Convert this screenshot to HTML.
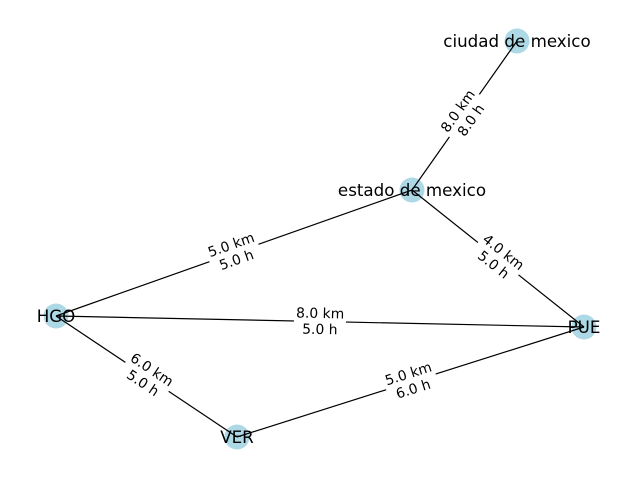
<!DOCTYPE html>
<html><head><meta charset="utf-8"><style>
html,body{margin:0;padding:0;background:#fff;}
body{width:640px;height:480px;position:relative;overflow:hidden;font-family:"DejaVu Sans","Liberation Sans",sans-serif;}
svg{position:absolute;left:0;top:0;}
.el{position:absolute;transform:translate(-50%,-50%) rotate(var(--r));background:#fff;font-size:13.9px;line-height:16px;text-align:center;white-space:nowrap;padding:0 2px;color:#000;}
.nl{position:absolute;transform:translate(-50%,-50%);font-size:16.7px;white-space:nowrap;color:#000;}
</style></head><body>
<svg width="640" height="480">
<g fill="#add8e6">
<circle cx="517" cy="41" r="12.5"/><circle cx="412" cy="190" r="12.5"/><circle cx="56" cy="316" r="12.5"/><circle cx="584" cy="327" r="12.5"/><circle cx="237" cy="437" r="12.5"/>
</g>
<g stroke="#000" stroke-width="1.2">
<line x1="517" y1="41" x2="412" y2="190"/>
<line x1="412" y1="190" x2="56" y2="316"/>
<line x1="412" y1="190" x2="584" y2="327"/>
<line x1="56" y1="316" x2="584" y2="327"/>
<line x1="56" y1="316" x2="237" y2="437"/>
<line x1="237" y1="437" x2="584" y2="327"/>
</g>
</svg>
<div class="el" style="left:464.5px;top:115.5px;--r:-54.8deg">8.0 km<br>8.0 h</div>
<div class="el" style="left:234px;top:253px;--r:-19.5deg">5.0 km<br>5.0 h</div>
<div class="el" style="left:498px;top:258.5px;--r:38.5deg">4.0 km<br>5.0 h</div>
<div class="el" style="left:320px;top:321.5px;--r:1.2deg">8.0 km<br>5.0 h</div>
<div class="el" style="left:146.5px;top:376.5px;--r:33.8deg">6.0 km<br>5.0 h</div>
<div class="el" style="left:410.5px;top:382px;--r:-17.6deg">5.0 km<br>6.0 h</div>
<div class="nl" style="left:517px;top:41px">ciudad de mexico</div>
<div class="nl" style="left:412px;top:190px">estado de mexico</div>
<div class="nl" style="left:56px;top:316px">HGO</div>
<div class="nl" style="left:584px;top:327px">PUE</div>
<div class="nl" style="left:237px;top:437px">VER</div>
</body></html>
